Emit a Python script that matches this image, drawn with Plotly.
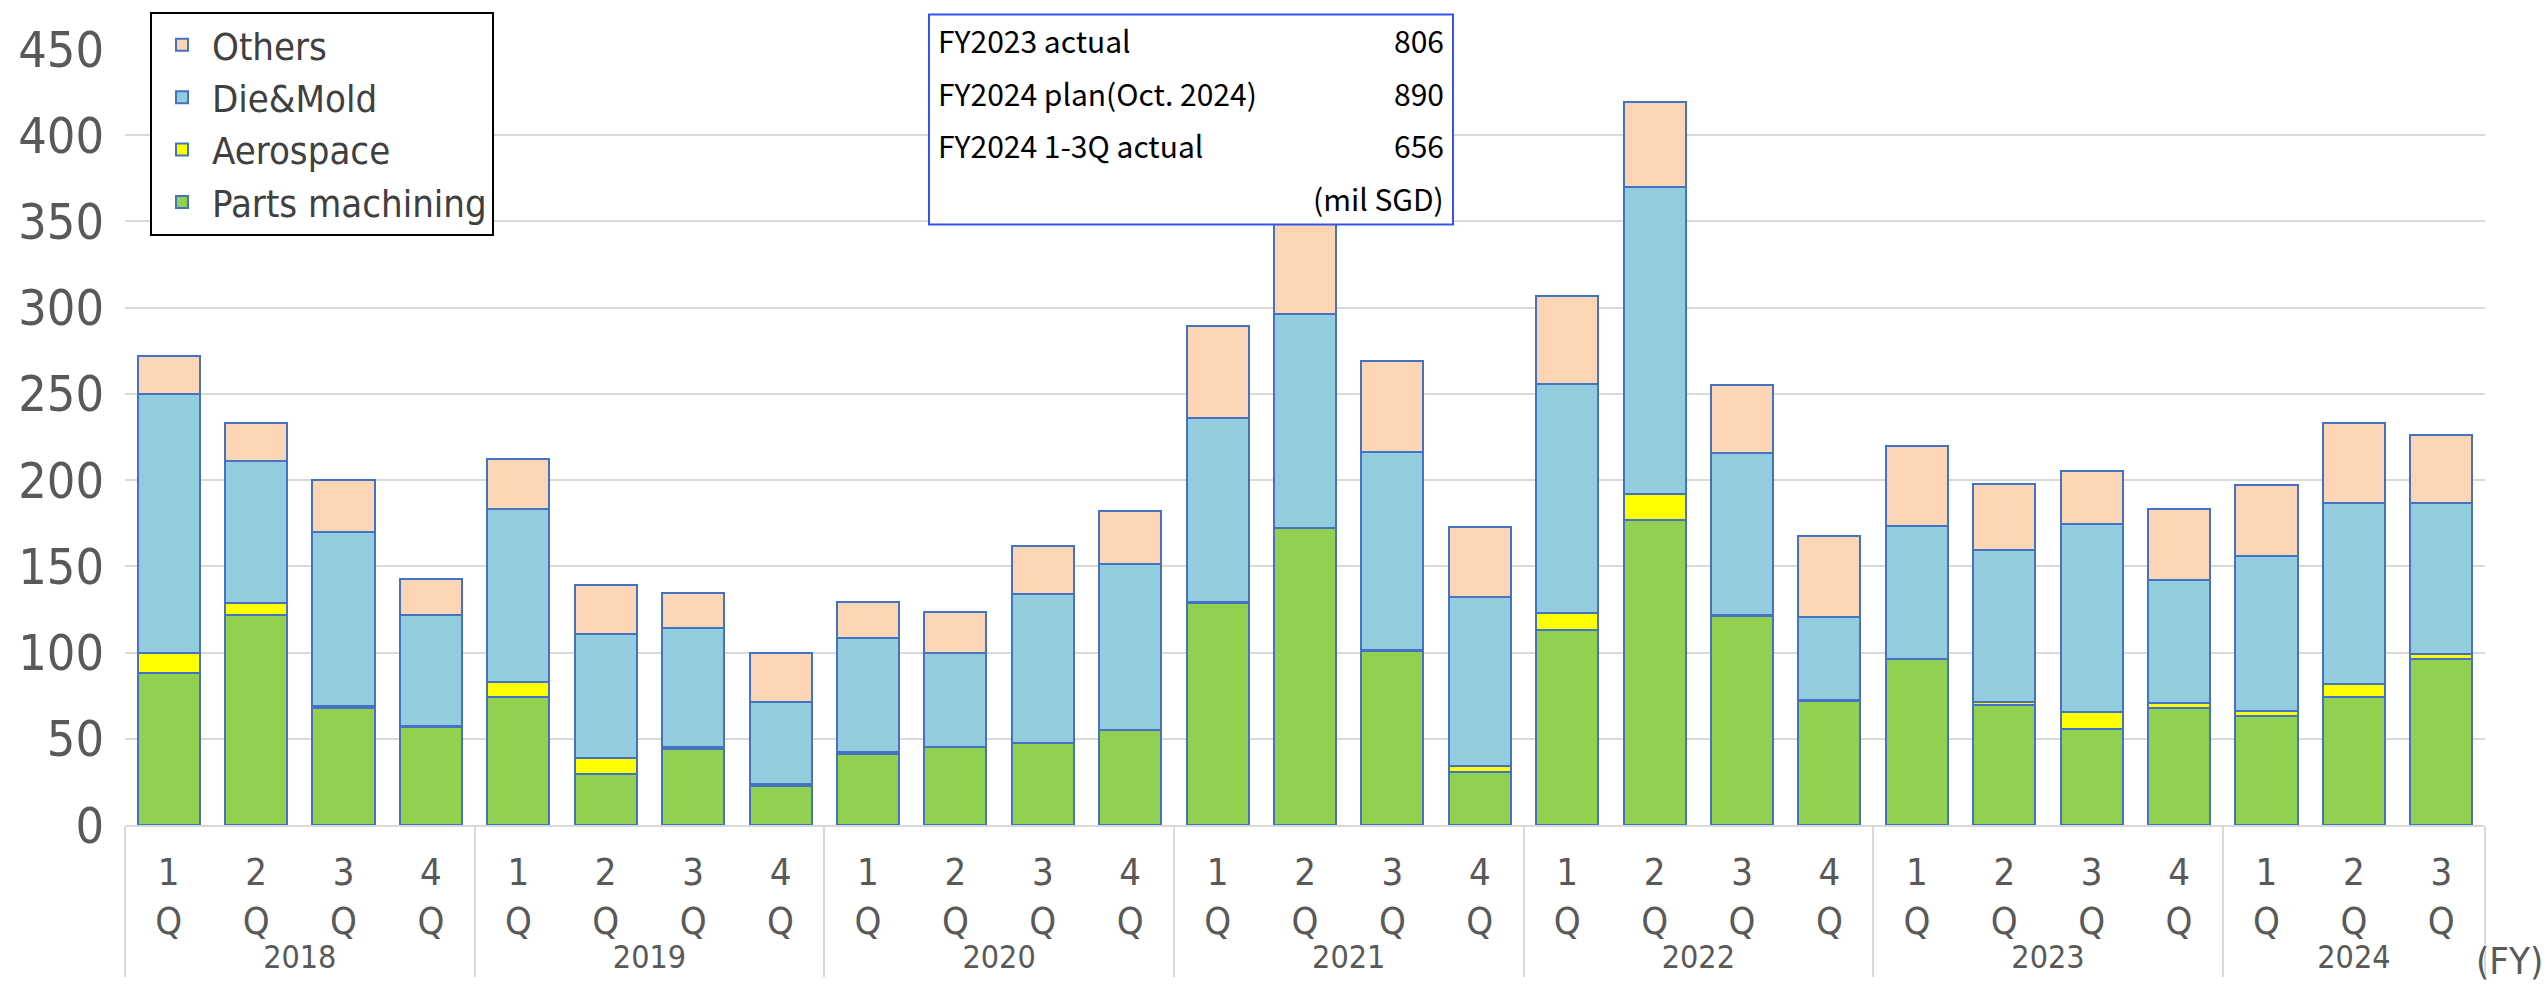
import plotly.graph_objects as go

# Quarterly order intake by segment (mil SGD)
years = ["2018"] * 4 + ["2019"] * 4 + ["2020"] * 4 + ["2021"] * 4 + ["2022"] * 4 + ["2023"] * 4 + ["2024"] * 3
quarters = ["1", "2", "3", "4"] * 6 + ["1", "2", "3"]

parts_machining = [88, 122, 68, 57, 74, 29.5, 44, 22.5, 41, 45, 47.5, 55,
                   129, 172, 101, 31, 113, 177, 121, 72, 96, 69.5, 55.5, 68,
                   63, 74, 96]
aerospace = [12, 7, 1, 0.5, 9, 9.5, 1.5, 1, 1.5, 0.5, 0.3, 0.3,
             0.3, 0.3, 0.3, 3, 10, 15, 1, 0.5, 0.5, 2, 10, 3,
             3, 8, 3]
die_mold = [150, 82, 101, 64, 100, 72, 69, 48, 66, 54, 86, 96,
            107, 124, 115, 98, 133, 178, 94, 48, 77, 88, 109, 71,
            90, 105, 88]
others = [22, 22, 30, 21, 29, 28, 20, 28, 21, 24, 28, 31,
          53, 54, 53, 41, 51, 49, 39, 47, 46, 38, 31, 41,
          41, 46, 39]

summary_labels = ["FY2023 actual", "FY2024 plan(Oct. 2024)", "FY2024 1-3Q actual"]
summary_values = ["806", "890", "656"]
summary_unit = "(mil SGD)"

W, H = 2547, 987
ML, MR, MT, MB = 125, 62, 41, 159
PW, PH = W - ML - MR, H - MT - MB


def px_x(px):
    return (px - ML) / PW


def px_y(py):
    return (H - MB - py) / PH


year_labels = [f"<span style='font-size:32px'>{y}</span>" for y in years]
quarter_labels = [f"{q}<br>Q" for q in quarters]
x = [year_labels, quarter_labels]

series = [
    ("Parts machining", parts_machining, "#92D050"),
    ("Aerospace", aerospace, "#FFFF00"),
    ("Die&Mold", die_mold, "#93CDDD"),
    ("Others", others, "#FCD5B5"),
]

fig = go.Figure()
for name, vals, color in series:
    fig.add_trace(go.Bar(
        x=x, y=vals, name=name, legendgroup=name,
        marker=dict(color=color, line=dict(color="#4472C4", width=2)),
    ))

fig.update_layout(
    width=W, height=H,
    margin=dict(l=ML, r=MR, t=MT, b=MB),
    barmode="stack",
    bargap=0.29,
    plot_bgcolor="white",
    paper_bgcolor="white",
    font=dict(family="Liberation Sans Narrow, DejaVu Sans Condensed, sans-serif", color="#595959"),
    legend=dict(
        x=px_x(150), y=px_y(3), xanchor="left", yanchor="top",
        traceorder="reversed", tracegroupgap=12,
        itemwidth=50, entrywidth=390, entrywidthmode="pixels",
        bordercolor="black", borderwidth=2, bgcolor="white",
        font=dict(size=38, color="#404040", family="Liberation Sans Narrow, DejaVu Sans Condensed, sans-serif"),
    ),
    showlegend=True,
)

fig.update_yaxes(
    range=[0, 450], dtick=50, showgrid=True, gridcolor="#D9D9D9", gridwidth=2,
    zeroline=False, tickfont=dict(size=50, color="#595959"), ticks="", ticklen=0,
    ticklabelstandoff=20,
)
fig.update_xaxes(
    type="multicategory", showline=True, linecolor="#D9D9D9", linewidth=2,
    showdividers=True, dividercolor="#D9D9D9", dividerwidth=2,
    tickfont=dict(size=38, color="#595959"), ticks="", ticklabelstandoff=12,
)

# summary box
fig.add_shape(type="rect", xref="paper", yref="paper",
              x0=px_x(929), x1=px_x(1453), y0=px_y(219), y1=px_y(6),
              line=dict(color="#3355EE", width=2), fillcolor="white", layer="above")
rows_y = [32, 86, 138]
for lab, val, ry in zip(summary_labels, summary_values, rows_y):
    fig.add_annotation(xref="paper", yref="paper", x=px_x(936), y=px_y(ry),
                       xanchor="left", yanchor="middle", text=lab, showarrow=False,
                       font=dict(size=30, color="black", family="Noto Sans CJK JP, Noto Sans, sans-serif"))
    fig.add_annotation(xref="paper", yref="paper", x=px_x(1446), y=px_y(ry),
                       xanchor="right", yanchor="middle", text=val, showarrow=False,
                       font=dict(size=30, color="black", family="Noto Sans CJK JP, Noto Sans, sans-serif"))
fig.add_annotation(xref="paper", yref="paper", x=px_x(1446), y=px_y(192),
                   xanchor="right", yanchor="middle", text=summary_unit, showarrow=False,
                   font=dict(size=30, color="black", family="Noto Sans CJK JP, Noto Sans, sans-serif"))

fig.add_annotation(xref="paper", yref="paper", x=px_x(W - 2), y=px_y(966),
                   xanchor="right", yanchor="middle", text="(FY)", showarrow=False,
                   font=dict(size=38, color="#595959"))

fig.write_html("out.html")
